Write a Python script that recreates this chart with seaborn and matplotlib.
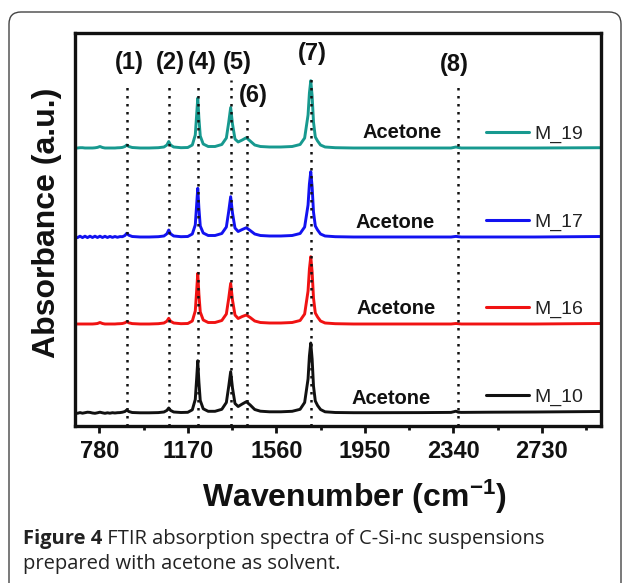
import numpy as np
import pandas as pd
import matplotlib
matplotlib.use("Agg")
import matplotlib.pyplot as plt
import seaborn as sns
from matplotlib.patches import FancyBboxPatch
from matplotlib.transforms import IdentityTransform

# ---------------- data ----------------
wavenumber = [673, 684, 695, 706, 717, 728, 739, 750, 761, 772,
              783, 794, 805, 816, 827, 838, 849, 860, 871, 882,
              893, 901, 910, 925, 960, 1000, 1040, 1065, 1078, 1086,
              1094, 1108, 1140, 1170, 1190, 1203, 1209, 1214, 1219, 1225,
              1238, 1260, 1290, 1320, 1340, 1350, 1359, 1367, 1378, 1392,
              1410, 1428, 1445, 1465, 1490, 1530, 1580, 1630, 1665, 1685,
              1700, 1706, 1712, 1718, 1724, 1732, 1742, 1755, 1775, 1820,
              1900, 2000, 2200, 2330, 2352, 2362, 2375, 2500, 2700, 2991]

m19 = [0, 0, 0.3, 0.3, 0, 0, 0, 0, 0.2, 0.6,
       1.5, 0.5, 0, 0, 0, 0, 0, 0.2, 0.3, 0.6,
       1.5, 3.0, 1.5, 0.5, 0, 0, 0.3, 1.0, 3.0, 6.5,
       3.0, 1.0, 0.3, 0.5, 3, 13, 33, 50, 30, 12,
       4, 1.5, 1.5, 3.5, 10, 25, 40.5, 24, 9, 6,
       8, 10.3, 7, 3, 1.5, 1, 1, 1.5, 3.5, 10,
       33, 55, 67.3, 52, 26, 11, 7, 3, 1, 0.3,
       0, 0, 0, 0, 1.0, 0.5, 0, 0, 0, 0.3]

m17 = [0.6, -0.6, 0.8, -0.6, 0.8, -0.6, 0.8, -0.5, 0.8, -0.5,
       0.8, -0.5, 0.7, -0.5, 0.6, -0.4, 0.5, -0.3, 0.4, 0.3,
       1.5, 3.7, 1.8, 0.5, 0, 0, 0.3, 1, 3.2, 7,
       3.2, 1, 0.3, 0.5, 3, 12, 32, 48.7, 29, 11,
       4, 1.5, 1.5, 3.5, 10, 25, 40.3, 24, 9, 5.5,
       7.5, 9.3, 6.5, 3, 1.5, 1, 1, 1.5, 3.5, 10,
       32, 53, 65.3, 50, 25, 11, 7, 3, 1, 0.3,
       0, 0, 0, 0, 0.6, 0.3, 0, 0, 0, 0.5]

m16 = [0, 0, 0, 0, 0, 0, 0, 0, 0.2, 0.5,
       1.5, 0.5, 0, 0, 0, 0, 0, 0.2, 0.3, 0.5,
       1.2, 2.3, 1.2, 0.4, 0, 0, 0.3, 1, 2.8, 5.7,
       2.8, 1, 0.3, 0.5, 3, 13, 33, 50.7, 30, 12,
       4, 1.5, 1.5, 3.5, 10, 25, 40.7, 24, 9, 5.5,
       7.5, 9, 6.5, 3, 1.5, 1, 1, 1.5, 3.5, 10,
       33, 55, 67.3, 52, 26, 11, 7, 3, 1, 0.3,
       0, 0, 0, 0, 0.5, 0.3, 0, 0, 0, 0.5]

m10 = [0.3, -0.3, 0.4, -0.2, 0.3, 0.8, 0.6, 0, -0.3, 0.2,
       0.8, 0.2, -0.3, 0.2, -0.2, 0.3, 0, 0.3, 0.4, 0.8,
       1.5, 3, 1.5, 0.5, 0.2, 0.2, 0.4, 1, 2.6, 5,
       2.6, 1, 0.5, 0.7, 3.2, 13.5, 34, 52.3, 31, 12.5,
       4.2, 1.7, 1.7, 3.7, 10.5, 26, 41.3, 25, 9.5, 6.5,
       9, 11.3, 8, 3.5, 1.8, 1.2, 1.2, 1.7, 3.7, 10.5,
       34, 57, 70, 54, 27, 12, 7.5, 3.5, 1.2, 0.5,
       0.3, 0.3, 0.4, 0.6, 1.8, 0.8, 0.6, 0.8, 1, 1.5]

samples = ["M_19", "M_17", "M_16", "M_10"]
spectra = [m19, m17, m16, m10]
offsets = [278, 189, 102, 13]          # stacking offsets (a.u.)
colors = ["#17998f", "#1212f0", "#f01212", "#111111"]

peak_positions = [901, 1086, 1214, 1359, 1431, 1714, 2362]
peak_labels = ["(1)", "(2)", "(4)", "(5)", "(6)", "(7)", "(8)"]
peak_line_tops = [343, 343, 343, 346, 309, 349, 344]

xtick_values = [780, 1170, 1560, 1950, 2340, 2730]
xtick_labels = ["780", "1170", "1560", "1950", "2340", "2730"]
xtick_minor = [975, 1365, 1755, 2145, 2535, 2925]

# ---------------- style ----------------
sns.set_theme(style="white")
plt.rcParams["font.family"] = ["Liberation Sans", "DejaVu Sans"]
plt.rcParams["mathtext.fontset"] = "custom"
plt.rcParams["mathtext.rm"] = "Liberation Sans:bold"
plt.rcParams["mathtext.bf"] = "Liberation Sans:bold"
plt.rcParams["mathtext.it"] = "Liberation Sans:bold"

W, H = 629, 583
fig = plt.figure(figsize=(W / 100, H / 100), dpi=100)
fig.patch.set_facecolor("white")
ax = fig.add_axes([75 / W, 1 - 426 / H, 526 / W, 393 / H])

rows = []
for name, spec, off in zip(samples, spectra, offsets):
    for x, v in zip(wavenumber, spec):
        rows.append({"wavenumber": x, "absorbance": v + off, "sample": name})
df = pd.DataFrame(rows)

sns.lineplot(data=df, x="wavenumber", y="absorbance", hue="sample",
             hue_order=samples, palette=colors, estimator=None, sort=False,
             lw=2.1, ax=ax, zorder=2)

ax.set_xlim(673, 2991)
ax.set_ylim(0, 393)

# dotted peak markers
ax.vlines(peak_positions, 0, peak_line_tops, colors="#111111",
          linestyles=(0, (1, 2.2)), lw=1.8, zorder=3)
label_dx = [3, 2, 5, 7, 6, 1.5, -4]
label_yf = [0.926, 0.926, 0.926, 0.926, 0.840, 0.947, 0.921]
for pos, lab, dx, yf in zip(peak_positions, peak_labels, label_dx, label_yf):
    ax.annotate(lab, xy=(pos, yf), xycoords=ax.get_xaxis_transform(),
                xytext=(dx, 0), textcoords="offset pixels",
                ha="center", va="center", fontsize=17, fontweight="bold",
                color="#111111")

# "Acetone" annotations
acetone_x = [2113, 2085, 2088, 2064]
for ox, off in zip(acetone_x, offsets):
    ax.text(ox, off + 15, "Acetone", ha="center", va="center",
            fontsize=14.5, fontweight="bold", color="#111111")

# legend
handles, labels = ax.get_legend_handles_labels()
leg = ax.legend(handles, labels, loc="center left",
                bbox_to_anchor=(0.781, 0.408), frameon=False, fontsize=14,
                handlelength=2.2, handletextpad=0.3, labelspacing=3.6,
                borderpad=0, borderaxespad=0)
for ln in leg.get_lines():
    ln.set_linewidth(2.2)
for t in leg.get_texts():
    t.set_color("#222222")

# axes styling
ax.set_xticks(xtick_values)
ax.set_xticklabels(xtick_labels)
ax.set_xticks(xtick_minor, minor=True)
ax.set_yticks([])
ax.tick_params(axis="x", which="major", direction="out", length=5, width=2,
               labelsize=17, pad=5, colors="#111111", bottom=True)
ax.tick_params(axis="x", which="minor", direction="out", length=3, width=2,
               bottom=True, colors="#111111")
for lbl in ax.get_xticklabels():
    lbl.set_fontweight("bold")
for sp in ax.spines.values():
    sp.set_visible(True)
    sp.set_linewidth(2.4)
    sp.set_color("#111111")

ax.set_xlabel(r"Wavenumber (cm$^{-1}$)", fontsize=23, fontweight="bold",
              color="#111111")
ax.xaxis.set_label_coords(0.530, -0.132)
ax.set_ylabel("Absorbance (a.u.)", fontsize=23, fontweight="bold",
              color="#111111")
ax.yaxis.set_label_coords(-0.024, 0.518)

# caption
cap_font = ["Open Sans", "DejaVu Sans"]
t1 = fig.text(23 / W, 1 - 544 / H, "Figure 4", fontsize=14.5, fontweight="bold",
              family=cap_font, color="#222222", ha="left", va="baseline")
ax.annotate(" FTIR absorption spectra of C-Si-nc suspensions", xy=(1, 0),
            xycoords=t1, ha="left", va="bottom", fontsize=14.5,
            family=cap_font, color="#222222", annotation_clip=False)
fig.text(23 / W, 1 - 569 / H, "prepared with acetone as solvent.", fontsize=14.5,
         family=cap_font, color="#222222", ha="left", va="baseline")

# rounded border
box = FancyBboxPatch((9, -40), 612, H - 12 + 40,
                     boxstyle="round,pad=0,rounding_size=12",
                     transform=IdentityTransform(), fill=False,
                     edgecolor="#444444", lw=1.0, clip_on=False)
fig.add_artist(box)

fig.savefig("out.png", dpi=100)
